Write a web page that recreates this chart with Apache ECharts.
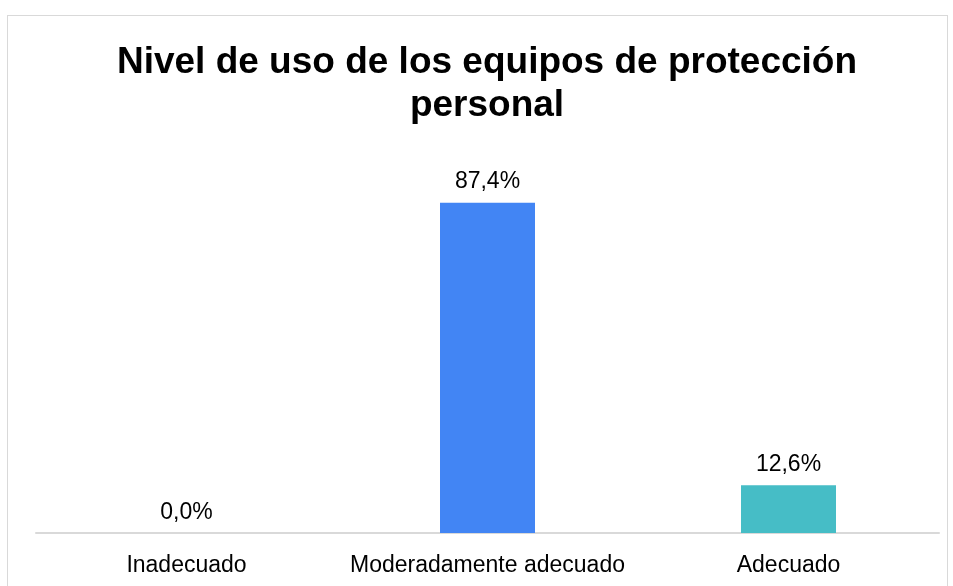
<!DOCTYPE html>
<html><head><meta charset="utf-8">
<script src="https://cdn.jsdelivr.net/npm/echarts@6/dist/echarts.min.js"></script>
<style>html,body{margin:0;padding:0;background:#fff}#c{width:953px;height:586px}
#frame{position:absolute;left:7px;top:15px;width:941px;height:600px;border:1.5px solid #d9d9d9;box-sizing:border-box;pointer-events:none}</style>
</head><body>
<div id="c"></div><div id="frame"></div>
<script>
const titleText = 'Nivel de uso de los equipos de protección\npersonal';
const categories = ['Inadecuado', 'Moderadamente adecuado', 'Adecuado'];
const values = [0.0, 87.4, 12.6];
const colors = ['#4285F4', '#4285F4', '#46BDC6'];
const chart = echarts.init(document.getElementById('c'));
chart.setOption({
  backgroundColor: 'transparent',
  animation: false,
  title: {
    text: titleText, left: 482, top: 36, textAlign: 'center',
    textStyle: {fontFamily: 'Liberation Sans, Arial', fontWeight: 'bold', fontSize: 37, lineHeight: 43, color: '#000'}
  },
  grid: {left: 36, right: 14, top: 155, bottom: 53},
  xAxis: {
    type: 'category', data: categories,
    axisLine: {lineStyle: {color: '#d9d9d9', width: 2}},
    axisTick: {show: false},
    axisLabel: {interval: 0, fontFamily: 'Liberation Sans, Arial', fontSize: 23, color: '#000', margin: 21}
  },
  yAxis: {type: 'value', min: 0, max: 100, show: false, splitLine: {show: false}},
  series: [{
    type: 'bar', barWidth: 95,
    data: values.map((v, i) => ({value: v, itemStyle: {color: colors[i]}})),
    label: {show: true, position: 'top', distance: 9, fontFamily: 'Liberation Sans, Arial', fontSize: 23, color: '#000',
      formatter: p => p.value.toFixed(1).replace('.', ',') + '%'}
  }]
});
</script>
</body></html>
